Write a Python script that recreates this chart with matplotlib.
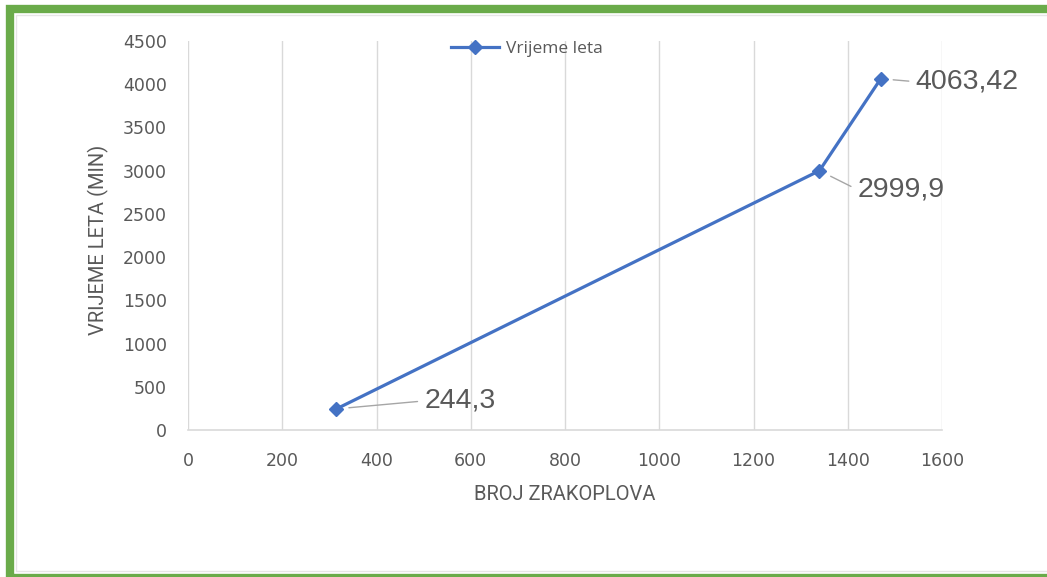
import matplotlib
matplotlib.use("Agg")
import matplotlib.pyplot as plt
from matplotlib.patches import Rectangle
from matplotlib.ticker import MultipleLocator

# Data
broj_zrakoplova = [315, 1340, 1470]
vrijeme_leta = [244.3, 2999.9, 4063.42]
oznake = ["244,3", "2999,9", "4063,42"]
serija = "Vrijeme leta"
x_naslov = "BROJ ZRAKOPLOVA"
y_naslov = "VRIJEME LETA (MIN)"

W, H = 1047, 577
fig = plt.figure(figsize=(W / 100, H / 100), dpi=100)
fig.patch.set_facecolor("white")

def px_rect(x0, y0, x1, y1):
    """Figure-fraction rectangle from pixel corners (origin top-left)."""
    return (x0 / W, 1 - y1 / H), (x1 - x0) / W, (y1 - y0) / H

ax_left, ax_right, ax_top, ax_bottom = 188, 942, 41, 430
(ax_x, ax_y), ax_w, ax_h = px_rect(ax_left, ax_top, ax_right, ax_bottom)
ax = fig.add_axes([ax_x, ax_y, ax_w, ax_h])

line_col = "#4472C4"
grid_col = "#d9d9d9"
text_col = "#595959"

ax.plot(broj_zrakoplova, vrijeme_leta, color=line_col, lw=2.3,
        marker="D", ms=7.5, mfc=line_col, mec=line_col, label=serija,
        zorder=3, clip_on=False)

ax.set_xlim(0, 1600)
ax.set_ylim(0, 4500)
ax.xaxis.set_major_locator(MultipleLocator(200))
ax.yaxis.set_major_locator(MultipleLocator(500))

ax.grid(axis="x", color=grid_col, lw=1)
ax.grid(axis="y", visible=False)
for s in ["left", "right", "top"]:
    ax.spines[s].set_visible(False)
ax.spines["bottom"].set_color(grid_col)
ax.spines["bottom"].set_linewidth(1.2)

tick_font = dict(family="DejaVu Sans", size=12.5)
ax.tick_params(axis="both", length=0, colors=text_col)
ax.tick_params(axis="y", pad=15)
ax.tick_params(axis="x", pad=16)
for lbl in ax.get_xticklabels() + ax.get_yticklabels():
    lbl.set_fontfamily(tick_font["family"])
    lbl.set_fontsize(tick_font["size"])
    lbl.set_color(text_col)

title_family = ["Liberation Sans Narrow", "Roboto"]
ax.set_xlabel(x_naslov, family=title_family, fontsize=14.5, color=text_col,
              va="center")
ax.xaxis.set_label_coords(0.5, -(495 - ax_bottom) / (ax_bottom - ax_top))
ax.set_ylabel(y_naslov, family=title_family, fontsize=14.5, color=text_col,
              va="center")
ax.yaxis.set_label_coords(-(ax_left - 98) / (ax_right - ax_left),
                          (ax_bottom - 240) / (ax_bottom - ax_top))

# Data labels with leader lines (offsets in pixels)
label_offsets = [(88, 8), (38, -19), (35, -3)]
for x, y, txt, (dx, dy) in zip(broj_zrakoplova, vrijeme_leta, oznake,
                               label_offsets):
    ax.annotate(txt, xy=(x, y), xytext=(dx, dy), textcoords="offset pixels",
                ha="left", va="center", fontsize=20.5,
                family="Liberation Sans", color=text_col,
                arrowprops=dict(arrowstyle="-", color="#a6a6a6", lw=1,
                                relpos=(0, 0.5), shrinkA=3, shrinkB=9),
                annotation_clip=False, zorder=4)

leg = fig.legend(loc="center", bbox_to_anchor=(527 / W, 1 - 49 / H),
                 frameon=False, handlelength=2.8, handletextpad=0.4,
                 borderpad=0, prop=dict(family="Open Sans", size=12.5))
for t in leg.get_texts():
    t.set_color(text_col)

# Frame around the chart
(gx, gy), gw, gh = px_rect(10, 9, 1052, 578)
fig.add_artist(Rectangle((gx, gy), gw, gh, transform=fig.transFigure,
                         fill=False, ec="#6AAB4A", lw=6, zorder=10))
(ix, iy), iw, ih = px_rect(16, 15, 1060, 571)
fig.add_artist(Rectangle((ix, iy), iw, ih, transform=fig.transFigure,
                         fill=False, ec="#e6e6e6", lw=1, zorder=9))

fig.savefig("out.png", dpi=100)
